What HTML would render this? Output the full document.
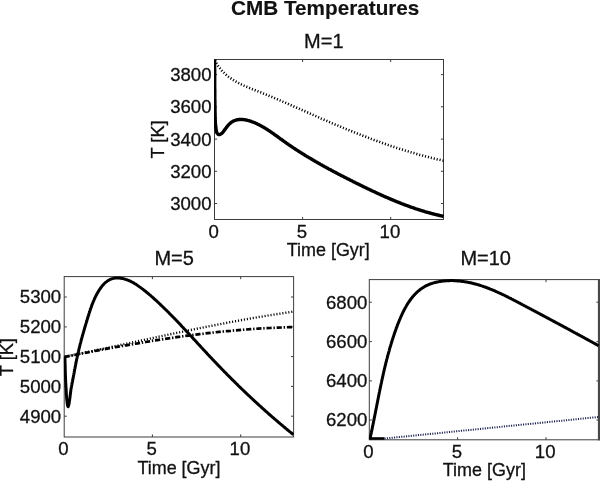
<!DOCTYPE html>
<html><head><meta charset="utf-8"><title>CMB Temperatures</title>
<style>
html,body{margin:0;padding:0;background:#fff;}
svg{display:block;will-change:transform;}
svg text{font-family:"Liberation Sans",Arial,sans-serif;font-size:18.6px;fill:#111;stroke:#111;stroke-width:0.3px;}
</style></head><body>
<svg width="600" height="481" viewBox="0 0 600 481">
<rect width="600" height="481" fill="#fff"/>
<text x="325.2" y="15.4" text-anchor="middle" textLength="188.4" lengthAdjust="spacingAndGlyphs" style="font-size:21px;font-weight:bold;stroke-width:0.15px">CMB Temperatures</text>
<text x="304.1" y="47.6" style="font-size:20px">M=1</text>
<text x="154.4" y="265.1" style="font-size:20px">M=5</text>
<text x="460.4" y="264.8" style="font-size:20px">M=10</text>
<rect x="214.5" y="59.5" width="229.0" height="160.0" fill="none" stroke="#3c3c3c" stroke-width="1"/>
<path d="M302.6,219.5 v-2.6 M302.6,59.5 v2.6 M390.7,219.5 v-2.6 M390.7,59.5 v2.6 M214.5,74.6 h2.6 M443.5,74.6 h-2.6 M214.5,106.8 h2.6 M443.5,106.8 h-2.6 M214.5,139.1 h2.6 M443.5,139.1 h-2.6 M214.5,171.3 h2.6 M443.5,171.3 h-2.6 M214.5,203.5 h2.6 M443.5,203.5 h-2.6" stroke="#3c3c3c" stroke-width="1" fill="none"/>
<text x="211.5" y="81.0" text-anchor="end">3800</text>
<text x="211.5" y="113.2" text-anchor="end">3600</text>
<text x="211.5" y="145.5" text-anchor="end">3400</text>
<text x="211.5" y="177.7" text-anchor="end">3200</text>
<text x="211.5" y="209.9" text-anchor="end">3000</text>
<text x="213.7" y="237.7" text-anchor="middle">0</text>
<text x="301.8" y="237.7" text-anchor="middle">5</text>
<text x="389.9" y="237.7" text-anchor="middle">10</text>
<text x="286.7" y="256.1" textLength="83.1" lengthAdjust="spacingAndGlyphs" style="font-size:18.7px">Time [Gyr]</text>
<rect x="64.2" y="276.6" width="229.4" height="160.4" fill="none" stroke="#3c3c3c" stroke-width="1"/>
<path d="M152.4,437.0 v-2.6 M152.4,276.6 v2.6 M240.7,437.0 v-2.6 M240.7,276.6 v2.6 M64.2,297.0 h2.6 M293.6,297.0 h-2.6 M64.2,326.9 h2.6 M293.6,326.9 h-2.6 M64.2,356.6 h2.6 M293.6,356.6 h-2.6 M64.2,386.4 h2.6 M293.6,386.4 h-2.6 M64.2,416.2 h2.6 M293.6,416.2 h-2.6" stroke="#3c3c3c" stroke-width="1" fill="none"/>
<text x="61.2" y="303.4" text-anchor="end">5300</text>
<text x="61.2" y="333.3" text-anchor="end">5200</text>
<text x="61.2" y="363.0" text-anchor="end">5100</text>
<text x="61.2" y="392.8" text-anchor="end">5000</text>
<text x="61.2" y="422.6" text-anchor="end">4900</text>
<text x="63.4" y="455.2" text-anchor="middle">0</text>
<text x="151.6" y="455.2" text-anchor="middle">5</text>
<text x="239.9" y="455.2" text-anchor="middle">10</text>
<text x="137.4" y="473.6" textLength="83.1" lengthAdjust="spacingAndGlyphs" style="font-size:18.7px">Time [Gyr]</text>
<rect x="369.3" y="279.6" width="229.7" height="160.2" fill="none" stroke="#3c3c3c" stroke-width="1"/>
<path d="M457.6,439.8 v-2.6 M457.6,279.6 v2.6 M546.0,439.8 v-2.6 M546.0,279.6 v2.6 M369.3,302.2 h2.6 M599.0,302.2 h-2.6 M369.3,341.6 h2.6 M599.0,341.6 h-2.6 M369.3,380.9 h2.6 M599.0,380.9 h-2.6 M369.3,420.0 h2.6 M599.0,420.0 h-2.6" stroke="#3c3c3c" stroke-width="1" fill="none"/>
<text x="367.4" y="308.6" text-anchor="end">6800</text>
<text x="367.4" y="348.0" text-anchor="end">6600</text>
<text x="367.4" y="387.3" text-anchor="end">6400</text>
<text x="367.4" y="426.4" text-anchor="end">6200</text>
<text x="368.5" y="458.0" text-anchor="middle">0</text>
<text x="456.8" y="458.0" text-anchor="middle">5</text>
<text x="545.2" y="458.0" text-anchor="middle">10</text>
<text x="442.8" y="476.4" textLength="83.1" lengthAdjust="spacingAndGlyphs" style="font-size:18.7px">Time [Gyr]</text>
<path d="M598.95,279.1 V440.40000000000003" stroke="#484848" stroke-width="2.1" fill="none"/>
<text transform="translate(163.6,139.3) rotate(-90)" x="-19.2" textLength="38.1" lengthAdjust="spacingAndGlyphs" style="font-size:18.7px">T [K]</text>
<text transform="translate(13.0,357.0) rotate(-90)" x="-19.2" textLength="38.1" lengthAdjust="spacingAndGlyphs" style="font-size:18.7px">T [K]</text>
<defs>
<clipPath id="c1"><rect x="214.0" y="59.0" width="230.0" height="161.0"/></clipPath>
<clipPath id="c2"><rect x="63.7" y="276.1" width="230.4" height="161.4"/></clipPath>
<clipPath id="c3"><rect x="368.8" y="279.1" width="230.7" height="161.2"/></clipPath>
</defs>
<path d="M214.9,60.3 L215.5,61.6 L216.2,62.8 L216.9,63.9 L217.6,65.1 L218.3,66.2 L219.1,67.2 L219.9,68.2 L220.7,69.2 L221.5,70.2 L222.3,71.2 L223.2,72.1 L224.1,72.9 L225.0,73.8 L225.9,74.6 L226.9,75.4 L227.8,76.2 L228.8,77.0 L229.8,77.7 L230.8,78.4 L231.8,79.1 L232.9,79.8 L233.9,80.4 L235.0,81.1 L236.1,81.7 L237.2,82.3 L238.3,82.9 L239.4,83.5 L240.5,84.0 L241.7,84.6 L242.8,85.1 L243.9,85.6 L245.1,86.1 L246.3,86.7 L247.4,87.1 L248.6,87.6 L249.8,88.1 L251.0,88.6 L252.1,89.1 L253.3,89.5 L254.5,90.0 L255.7,90.5 L256.9,90.9 L258.1,91.4 L259.3,91.9 L260.5,92.3 L261.7,92.8 L262.9,93.3 L264.0,93.8 L265.2,94.2 L266.4,94.7 L267.6,95.2 L268.8,95.7 L269.9,96.2 L271.1,96.7 L272.3,97.1 L273.5,97.6 L274.6,98.1 L275.8,98.6 L277.0,99.1 L278.2,99.6 L279.3,100.1 L280.5,100.6 L281.7,101.1 L282.8,101.6 L284.0,102.1 L285.2,102.6 L286.3,103.1 L287.5,103.6 L288.6,104.1 L289.8,104.7 L291.0,105.2 L292.1,105.7 L293.3,106.2 L294.4,106.7 L295.6,107.2 L296.8,107.7 L297.9,108.2 L299.1,108.7 L300.2,109.3 L301.4,109.8 L302.6,110.3 L303.7,110.8 L304.9,111.3 L306.0,111.8 L307.2,112.3 L308.4,112.8 L309.5,113.4 L310.7,113.9 L311.8,114.4 L313.0,114.9 L314.2,115.4 L315.3,115.9 L316.5,116.4 L317.6,116.9 L318.8,117.4 L320.0,117.9 L321.1,118.5 L322.3,119.0 L323.5,119.5 L324.6,120.0 L325.8,120.5 L327.0,121.0 L328.1,121.5 L329.3,122.0 L330.5,122.5 L331.6,123.0 L332.8,123.5 L334.0,124.0 L335.1,124.5 L336.3,124.9 L337.5,125.4 L338.6,125.9 L339.8,126.4 L341.0,126.9 L342.2,127.4 L343.3,127.9 L344.5,128.4 L345.7,128.9 L346.9,129.3 L348.0,129.8 L349.2,130.3 L350.4,130.8 L351.6,131.2 L352.7,131.7 L353.9,132.2 L355.1,132.7 L356.3,133.1 L357.5,133.6 L358.7,134.1 L359.8,134.5 L361.0,135.0 L362.2,135.5 L363.4,135.9 L364.6,136.4 L365.8,136.8 L366.9,137.3 L368.1,137.7 L369.3,138.2 L370.5,138.6 L371.7,139.1 L372.9,139.5 L374.1,140.0 L375.3,140.4 L376.5,140.8 L377.7,141.3 L378.9,141.7 L380.1,142.1 L381.2,142.6 L382.4,143.0 L383.6,143.4 L384.8,143.8 L386.0,144.2 L387.2,144.7 L388.4,145.1 L389.6,145.5 L390.8,145.9 L392.0,146.3 L393.3,146.7 L394.5,147.1 L395.7,147.5 L396.9,147.9 L398.1,148.3 L399.3,148.7 L400.5,149.1 L401.7,149.5 L402.9,149.8 L404.1,150.2 L405.3,150.6 L406.6,151.0 L407.8,151.3 L409.0,151.7 L410.2,152.1 L411.4,152.4 L412.6,152.8 L413.9,153.1 L415.1,153.5 L416.3,153.8 L417.5,154.2 L418.7,154.5 L420.0,154.9 L421.2,155.2 L422.4,155.5 L423.6,155.9 L424.9,156.2 L426.1,156.5 L427.3,156.8 L428.6,157.1 L429.8,157.5 L431.0,157.8 L432.3,158.1 L433.5,158.4 L434.7,158.7 L436.0,159.0 L437.2,159.3 L438.5,159.5 L439.7,159.8 L440.9,160.1 L442.2,160.4 L443.4,160.6" clip-path="url(#c1)" fill="none" stroke="#000" stroke-width="2.6" stroke-dasharray="1.1 1.9"/>
<path d="M214.6,59.4 L214.6,60.1 L214.6,60.7 L214.6,61.4 L214.6,62.0 L214.6,62.7 L214.6,63.4 L214.6,64.0 L214.6,64.7 L214.6,65.4 L214.6,66.0 L214.6,66.7 L214.6,67.3 L214.6,68.0 L214.7,68.7 L214.7,69.3 L214.7,70.0 L214.7,70.7 L214.7,71.3 L214.7,72.0 L214.7,72.6 L214.7,73.3 L214.7,74.0 L214.7,74.6 L214.7,75.3 L214.7,76.0 L214.7,76.6 L214.7,77.3 L214.7,78.0 L214.7,78.6 L214.7,79.3 L214.7,80.0 L214.7,80.6 L214.7,81.3 L214.7,81.9 L214.7,82.6 L214.7,83.3 L214.7,83.9 L214.7,84.6 L214.7,85.3 L214.7,85.9 L214.7,86.6 L214.7,87.3 L214.7,87.9 L214.7,88.6 L214.8,89.3 L214.8,89.9 L214.8,90.6 L214.8,91.3 L214.8,91.9 L214.8,92.6 L214.8,93.3 L214.8,93.9 L214.8,94.6 L214.8,95.3 L214.8,95.9 L214.8,96.6 L214.8,97.2 L214.8,97.9 L214.8,98.6 L214.8,99.2 L214.8,99.9 L214.9,100.6 L214.9,101.2 L214.9,101.9 L214.9,102.6 L214.9,103.2 L214.9,103.9 L214.9,104.5 L214.9,105.2 L214.9,105.9 L214.9,106.5 L214.9,107.2 L215.0,107.9 L215.0,108.5 L215.0,109.2 L215.0,109.8 L215.0,110.5 L215.0,111.2 L215.0,111.8 L215.0,112.5 L215.1,113.1 L215.1,113.8 L215.1,114.5 L215.1,115.1 L215.1,115.8 L215.1,116.4 L215.2,117.1 L215.2,117.7 L215.2,118.4 L215.2,119.1 L215.2,119.7 L215.3,120.4 L215.3,121.0 L215.3,121.7 L215.4,122.4 L215.4,123.0 L215.5,123.7 L215.5,124.4 L215.6,125.0 L215.6,125.7 L215.7,126.4 L215.8,127.0 L215.9,127.7 L216.0,128.4 L216.0,129.1 L216.1,129.7 L216.3,130.4 L216.4,131.1 L216.5,131.8 L216.7,132.4 L217.0,133.0 L217.4,133.5 L217.8,134.0 L218.3,134.4 L218.9,134.6 L219.5,134.6 L220.1,134.4 L220.7,134.1 L221.2,133.7 L221.8,133.3 L222.3,132.9 L222.7,132.4 L223.2,131.9 L223.6,131.4 L224.0,130.8 L224.4,130.2 L224.9,129.6 L225.3,129.0 L225.7,128.4 L226.2,127.8 L226.6,127.2 L227.1,126.6 L227.5,126.1 L228.0,125.5 L228.5,124.9 L229.0,124.4 L229.5,123.9 L230.0,123.5 L230.5,123.0 L231.0,122.6 L231.5,122.2 L232.0,121.9 L232.6,121.5 L233.1,121.2 L233.7,121.0 L234.3,120.7 L234.8,120.5 L235.4,120.3 L236.0,120.1 L236.6,119.9 L237.2,119.8 L237.8,119.7 L238.4,119.6 L239.0,119.5 L239.6,119.5 L240.2,119.5 L240.8,119.4 L241.5,119.4 L242.1,119.5 L242.7,119.5 L243.4,119.6 L244.0,119.6 L244.6,119.7 L245.3,119.8 L245.9,120.0 L246.5,120.1 L247.2,120.2 L247.8,120.4 L248.5,120.6 L249.1,120.7 L249.7,120.9 L250.4,121.1 L251.0,121.4 L251.6,121.6 L252.3,121.8 L252.9,122.0 L253.5,122.3 L254.1,122.5 L254.8,122.8 L255.4,123.1 L256.0,123.3 L256.6,123.6 L257.2,123.9 L257.8,124.2 L258.4,124.5 L259.0,124.8 L259.6,125.1 L260.2,125.4 L260.8,125.7 L261.3,126.0 L261.9,126.3 L262.5,126.7 L263.1,127.0 L263.6,127.3 L264.2,127.7 L264.8,128.0 L265.3,128.3 L265.9,128.7 L266.5,129.0 L267.0,129.4 L267.6,129.7 L268.1,130.1 L268.7,130.5 L269.2,130.8 L269.8,131.2 L270.3,131.6 L270.9,131.9 L271.4,132.3 L272.0,132.7 L272.5,133.1 L273.0,133.4 L273.6,133.8 L274.1,134.2 L274.6,134.6 L275.2,135.0 L275.7,135.4 L276.3,135.7 L276.8,136.1 L277.3,136.5 L277.9,136.9 L278.4,137.3 L278.9,137.7 L279.5,138.1 L280.0,138.5 L280.5,138.9 L281.1,139.2 L281.6,139.6 L282.1,140.0 L282.7,140.4 L283.2,140.8 L283.8,141.2 L284.3,141.6 L284.8,141.9 L285.4,142.3 L285.9,142.7 L286.4,143.1 L287.0,143.5 L287.5,143.8 L288.1,144.2 L288.6,144.6 L289.2,145.0 L289.7,145.3 L290.3,145.7 L290.8,146.1 L291.3,146.4 L291.9,146.8 L292.4,147.2 L293.0,147.6 L293.5,147.9 L294.1,148.3 L294.6,148.6 L295.2,149.0 L295.7,149.4 L296.3,149.7 L296.9,150.1 L297.4,150.4 L298.0,150.8 L298.5,151.2 L299.1,151.5 L299.6,151.9 L300.2,152.2 L300.8,152.6 L301.3,152.9 L301.9,153.3 L302.4,153.6 L303.0,154.0 L303.6,154.3 L304.1,154.7 L304.7,155.0 L305.2,155.4 L305.8,155.7 L306.4,156.1 L306.9,156.4 L307.5,156.7 L308.1,157.1 L308.6,157.4 L309.2,157.8 L309.8,158.1 L310.3,158.4 L310.9,158.8 L311.5,159.1 L312.0,159.5 L312.6,159.8 L313.2,160.1 L313.7,160.5 L314.3,160.8 L314.9,161.1 L315.5,161.5 L316.0,161.8 L316.6,162.1 L317.2,162.4 L317.8,162.8 L318.3,163.1 L318.9,163.4 L319.5,163.8 L320.1,164.1 L320.6,164.4 L321.2,164.7 L321.8,165.1 L322.4,165.4 L322.9,165.7 L323.5,166.0 L324.1,166.3 L324.7,166.7 L325.3,167.0 L325.8,167.3 L326.4,167.6 L327.0,167.9 L327.6,168.3 L328.2,168.6 L328.7,168.9 L329.3,169.2 L329.9,169.5 L330.5,169.8 L331.1,170.1 L331.6,170.5 L332.2,170.8 L332.8,171.1 L333.4,171.4 L334.0,171.7 L334.6,172.0 L335.2,172.3 L335.7,172.6 L336.3,172.9 L336.9,173.3 L337.5,173.6 L338.1,173.9 L338.7,174.2 L339.3,174.5 L339.9,174.8 L340.4,175.1 L341.0,175.4 L341.6,175.7 L342.2,176.0 L342.8,176.3 L343.4,176.6 L344.0,176.9 L344.6,177.2 L345.2,177.5 L345.7,177.8 L346.3,178.1 L346.9,178.4 L347.5,178.7 L348.1,179.0 L348.7,179.3 L349.3,179.6 L349.9,179.9 L350.5,180.2 L351.1,180.5 L351.7,180.8 L352.3,181.1 L352.8,181.4 L353.4,181.7 L354.0,182.0 L354.6,182.3 L355.2,182.6 L355.8,182.9 L356.4,183.2 L357.0,183.5 L357.6,183.8 L358.2,184.1 L358.8,184.4 L359.4,184.6 L360.0,184.9 L360.6,185.2 L361.2,185.5 L361.8,185.8 L362.3,186.1 L362.9,186.4 L363.5,186.7 L364.1,187.0 L364.7,187.3 L365.3,187.6 L365.9,187.8 L366.5,188.1 L367.1,188.4 L367.7,188.7 L368.3,189.0 L368.9,189.3 L369.5,189.6 L370.1,189.9 L370.7,190.1 L371.3,190.4 L371.9,190.7 L372.5,191.0 L373.1,191.3 L373.7,191.5 L374.3,191.8 L374.9,192.1 L375.5,192.4 L376.1,192.7 L376.7,192.9 L377.3,193.2 L377.9,193.5 L378.5,193.8 L379.1,194.0 L379.7,194.3 L380.3,194.6 L380.9,194.9 L381.5,195.1 L382.1,195.4 L382.7,195.7 L383.3,195.9 L383.9,196.2 L384.5,196.5 L385.1,196.8 L385.8,197.0 L386.4,197.3 L387.0,197.5 L387.6,197.8 L388.2,198.1 L388.8,198.3 L389.4,198.6 L390.0,198.9 L390.6,199.1 L391.2,199.4 L391.8,199.6 L392.4,199.9 L393.1,200.1 L393.7,200.4 L394.3,200.6 L394.9,200.9 L395.5,201.2 L396.1,201.4 L396.7,201.7 L397.3,201.9 L398.0,202.1 L398.6,202.4 L399.2,202.6 L399.8,202.9 L400.4,203.1 L401.0,203.4 L401.6,203.6 L402.3,203.8 L402.9,204.1 L403.5,204.3 L404.1,204.6 L404.7,204.8 L405.4,205.0 L406.0,205.3 L406.6,205.5 L407.2,205.7 L407.8,205.9 L408.5,206.2 L409.1,206.4 L409.7,206.6 L410.3,206.8 L411.0,207.1 L411.6,207.3 L412.2,207.5 L412.8,207.7 L413.5,207.9 L414.1,208.1 L414.7,208.4 L415.3,208.6 L416.0,208.8 L416.6,209.0 L417.2,209.2 L417.9,209.4 L418.5,209.6 L419.1,209.8 L419.8,210.0 L420.4,210.2 L421.0,210.4 L421.7,210.6 L422.3,210.8 L422.9,211.0 L423.6,211.2 L424.2,211.4 L424.8,211.6 L425.5,211.8 L426.1,212.0 L426.7,212.1 L427.4,212.3 L428.0,212.5 L428.7,212.7 L429.3,212.9 L429.9,213.0 L430.6,213.2 L431.2,213.4 L431.9,213.6 L432.5,213.7 L433.2,213.9 L433.8,214.1 L434.5,214.2 L435.1,214.4 L435.8,214.6 L436.4,214.7 L437.1,214.9 L437.7,215.0 L438.4,215.2 L439.0,215.3 L439.7,215.5 L440.3,215.6 L441.0,215.8 L441.6,215.9 L442.3,216.1 L442.9,216.2 L443.6,216.4" clip-path="url(#c1)" fill="none" stroke="#000" stroke-width="3.4" stroke-linejoin="round" stroke-linecap="butt"/>
<path d="M64.7,356.8 L68.5,356.1 L72.4,355.2 L76.3,354.4 L80.1,353.6 L84.0,352.8 L87.9,352.0 L91.7,351.2 L95.6,350.3 L99.5,349.5 L103.3,348.7 L107.2,347.9 L111.1,347.0 L114.9,346.2 L118.8,345.4 L122.7,344.5 L126.5,343.7 L130.4,342.8 L134.3,342.0 L138.1,341.2 L142.0,340.3 L145.8,339.5 L149.7,338.7 L153.6,337.8 L157.4,337.0 L161.3,336.2 L165.2,335.3 L169.0,334.5 L172.9,333.7 L176.8,332.9 L180.6,332.1 L184.5,331.3 L188.4,330.5 L192.3,329.7 L196.1,328.9 L200.0,328.1 L203.9,327.3 L207.8,326.5 L211.6,325.8 L215.5,325.0 L219.4,324.3 L223.3,323.5 L227.2,322.8 L231.0,322.0 L234.9,321.3 L238.8,320.6 L242.7,319.9 L246.6,319.2 L250.5,318.5 L254.4,317.8 L258.3,317.1 L262.2,316.5 L266.1,315.8 L270.0,315.2 L273.9,314.6 L277.8,314.0 L281.7,313.4 L285.6,312.8 L289.5,312.2 L293.5,311.6" clip-path="url(#c2)" fill="none" stroke="#000" stroke-width="2.4" stroke-dasharray="1.1 1.9"/>
<path d="M64.7,356.9 L68.5,356.1 L72.3,355.4 L76.2,354.6 L80.0,353.9 L83.9,353.1 L87.7,352.4 L91.5,351.6 L95.4,350.9 L99.2,350.2 L103.1,349.5 L106.9,348.7 L110.8,348.0 L114.6,347.3 L118.5,346.6 L122.4,345.9 L126.2,345.3 L130.1,344.6 L133.9,343.9 L137.8,343.3 L141.6,342.6 L145.5,342.0 L149.4,341.4 L153.2,340.7 L157.1,340.1 L161.0,339.5 L164.8,338.9 L168.7,338.3 L172.6,337.8 L176.5,337.2 L180.3,336.7 L184.2,336.1 L188.1,335.6 L192.0,335.1 L195.9,334.6 L199.7,334.1 L203.6,333.7 L207.5,333.2 L211.4,332.8 L215.3,332.3 L219.2,331.9 L223.1,331.5 L227.0,331.1 L230.9,330.8 L234.8,330.4 L238.7,330.1 L242.6,329.8 L246.5,329.5 L250.4,329.2 L254.3,328.9 L258.2,328.6 L262.1,328.4 L266.0,328.2 L269.9,328.0 L273.8,327.8 L277.7,327.6 L281.7,327.5 L285.6,327.3 L289.5,327.2 L293.4,327.1" clip-path="url(#c2)" fill="none" stroke="#000" stroke-width="2.7" stroke-dasharray="5.2 1.8 1.4 1.8"/>
<path d="M64.9,356.6 L64.9,357.5 L64.9,358.4 L65.0,359.2 L65.0,360.1 L65.0,361.0 L65.0,361.8 L65.1,362.7 L65.1,363.6 L65.1,364.4 L65.1,365.3 L65.2,366.1 L65.2,367.0 L65.2,367.9 L65.2,368.7 L65.2,369.6 L65.3,370.4 L65.3,371.3 L65.3,372.2 L65.3,373.0 L65.4,373.9 L65.4,374.7 L65.4,375.6 L65.5,376.5 L65.5,377.3 L65.5,378.2 L65.6,379.1 L65.6,380.0 L65.6,380.8 L65.7,381.7 L65.7,382.6 L65.8,383.5 L65.8,384.4 L65.9,385.3 L65.9,386.2 L66.0,387.0 L66.0,387.9 L66.1,388.8 L66.1,389.6 L66.2,390.5 L66.2,391.3 L66.3,392.1 L66.3,392.9 L66.3,393.7 L66.4,394.5 L66.4,395.3 L66.5,396.1 L66.6,396.9 L66.6,397.8 L66.7,398.7 L66.8,399.6 L66.9,400.6 L67.0,401.7 L67.2,402.9 L67.3,404.0 L67.5,405.0 L67.7,405.9 L67.9,406.4 L68.1,406.7 L68.3,406.4 L68.5,405.8 L68.7,405.0 L69.0,404.0 L69.2,402.9 L69.3,401.8 L69.5,400.8 L69.6,399.8 L69.8,398.8 L69.9,397.9 L70.0,397.1 L70.1,396.2 L70.2,395.4 L70.3,394.6 L70.4,393.8 L70.5,393.0 L70.6,392.2 L70.7,391.4 L70.8,390.6 L70.9,389.8 L71.0,389.0 L71.2,388.2 L71.3,387.3 L71.5,386.5 L71.6,385.6 L71.8,384.8 L72.0,383.9 L72.1,383.1 L72.3,382.2 L72.5,381.3 L72.6,380.5 L72.8,379.6 L73.0,378.8 L73.1,377.9 L73.3,377.0 L73.5,376.2 L73.6,375.3 L73.8,374.5 L73.9,373.6 L74.1,372.8 L74.3,371.9 L74.4,371.1 L74.6,370.2 L74.7,369.3 L74.9,368.5 L75.1,367.6 L75.2,366.8 L75.4,365.9 L75.5,365.1 L75.7,364.3 L75.9,363.4 L76.0,362.6 L76.2,361.7 L76.4,360.9 L76.5,360.0 L76.7,359.2 L76.9,358.3 L77.1,357.5 L77.3,356.6 L77.4,355.8 L77.6,354.9 L77.8,354.1 L78.0,353.3 L78.2,352.4 L78.4,351.6 L78.6,350.7 L78.8,349.9 L79.0,349.0 L79.2,348.2 L79.4,347.4 L79.6,346.5 L79.8,345.7 L80.0,344.8 L80.2,344.0 L80.5,343.2 L80.7,342.3 L80.9,341.5 L81.1,340.6 L81.3,339.8 L81.6,339.0 L81.8,338.1 L82.0,337.3 L82.3,336.4 L82.5,335.6 L82.7,334.8 L83.0,333.9 L83.2,333.1 L83.4,332.3 L83.7,331.4 L83.9,330.6 L84.2,329.8 L84.4,328.9 L84.6,328.1 L84.9,327.3 L85.1,326.4 L85.4,325.6 L85.6,324.8 L85.9,323.9 L86.1,323.1 L86.4,322.3 L86.6,321.4 L86.9,320.6 L87.1,319.8 L87.4,319.0 L87.6,318.1 L87.9,317.3 L88.1,316.5 L88.4,315.7 L88.7,314.8 L88.9,314.0 L89.2,313.2 L89.4,312.4 L89.7,311.6 L90.0,310.7 L90.2,309.9 L90.5,309.1 L90.8,308.3 L91.1,307.5 L91.4,306.7 L91.6,305.9 L91.9,305.1 L92.2,304.3 L92.6,303.4 L92.9,302.6 L93.2,301.8 L93.5,301.1 L93.9,300.3 L94.2,299.5 L94.6,298.7 L94.9,297.9 L95.3,297.1 L95.7,296.3 L96.1,295.5 L96.5,294.8 L96.9,294.0 L97.3,293.2 L97.8,292.4 L98.2,291.7 L98.7,290.9 L99.2,290.2 L99.7,289.4 L100.2,288.7 L100.7,287.9 L101.2,287.2 L101.8,286.5 L102.3,285.8 L102.9,285.1 L103.5,284.5 L104.1,283.8 L104.7,283.2 L105.3,282.7 L106.0,282.1 L106.7,281.6 L107.3,281.1 L108.0,280.6 L108.7,280.2 L109.5,279.8 L110.2,279.4 L111.0,279.1 L111.8,278.8 L112.6,278.6 L113.4,278.4 L114.2,278.2 L115.1,278.1 L115.9,278.0 L116.8,278.0 L117.6,278.0 L118.5,278.0 L119.4,278.1 L120.2,278.2 L121.1,278.3 L122.0,278.4 L122.9,278.6 L123.7,278.8 L124.6,279.0 L125.4,279.3 L126.3,279.6 L127.1,279.8 L127.9,280.2 L128.8,280.5 L129.6,280.8 L130.3,281.2 L131.1,281.6 L131.9,282.0 L132.7,282.4 L133.4,282.8 L134.2,283.2 L134.9,283.7 L135.6,284.1 L136.4,284.6 L137.1,285.1 L137.8,285.6 L138.5,286.1 L139.2,286.6 L139.9,287.1 L140.6,287.6 L141.3,288.1 L142.0,288.6 L142.7,289.1 L143.4,289.7 L144.1,290.2 L144.8,290.7 L145.4,291.3 L146.1,291.8 L146.8,292.4 L147.4,292.9 L148.1,293.5 L148.8,294.0 L149.4,294.6 L150.1,295.1 L150.8,295.7 L151.4,296.3 L152.1,296.9 L152.7,297.4 L153.4,298.0 L154.0,298.6 L154.6,299.2 L155.3,299.7 L155.9,300.3 L156.6,300.9 L157.2,301.5 L157.8,302.1 L158.5,302.7 L159.1,303.3 L159.7,303.9 L160.4,304.5 L161.0,305.1 L161.6,305.7 L162.2,306.3 L162.9,306.9 L163.5,307.5 L164.1,308.1 L164.7,308.7 L165.3,309.3 L166.0,309.9 L166.6,310.5 L167.2,311.1 L167.8,311.7 L168.4,312.3 L169.0,312.9 L169.6,313.6 L170.2,314.2 L170.8,314.8 L171.4,315.4 L172.1,316.0 L172.7,316.7 L173.3,317.3 L173.9,317.9 L174.5,318.5 L175.1,319.1 L175.7,319.8 L176.3,320.4 L176.9,321.0 L177.5,321.6 L178.1,322.3 L178.7,322.9 L179.3,323.5 L179.9,324.1 L180.5,324.8 L181.0,325.4 L181.6,326.0 L182.2,326.7 L182.8,327.3 L183.4,327.9 L184.0,328.6 L184.6,329.2 L185.2,329.8 L185.8,330.5 L186.4,331.1 L187.0,331.7 L187.6,332.4 L188.1,333.0 L188.7,333.6 L189.3,334.3 L189.9,334.9 L190.5,335.6 L191.1,336.2 L191.7,336.8 L192.3,337.5 L192.8,338.1 L193.4,338.7 L194.0,339.4 L194.6,340.0 L195.2,340.6 L195.8,341.3 L196.4,341.9 L197.0,342.6 L197.5,343.2 L198.1,343.8 L198.7,344.5 L199.3,345.1 L199.9,345.8 L200.5,346.4 L201.1,347.0 L201.6,347.7 L202.2,348.3 L202.8,348.9 L203.4,349.6 L204.0,350.2 L204.6,350.8 L205.2,351.5 L205.8,352.1 L206.4,352.8 L206.9,353.4 L207.5,354.0 L208.1,354.7 L208.7,355.3 L209.3,355.9 L209.9,356.6 L210.5,357.2 L211.1,357.8 L211.7,358.4 L212.3,359.1 L212.9,359.7 L213.5,360.3 L214.1,361.0 L214.7,361.6 L215.3,362.2 L215.9,362.8 L216.5,363.5 L217.1,364.1 L217.7,364.7 L218.3,365.4 L218.9,366.0 L219.5,366.6 L220.1,367.2 L220.7,367.8 L221.3,368.5 L221.9,369.1 L222.5,369.7 L223.1,370.3 L223.7,371.0 L224.3,371.6 L224.9,372.2 L225.5,372.8 L226.1,373.4 L226.7,374.0 L227.3,374.7 L227.9,375.3 L228.6,375.9 L229.2,376.5 L229.8,377.1 L230.4,377.7 L231.0,378.3 L231.6,379.0 L232.2,379.6 L232.8,380.2 L233.5,380.8 L234.1,381.4 L234.7,382.0 L235.3,382.6 L235.9,383.2 L236.5,383.8 L237.2,384.4 L237.8,385.0 L238.4,385.7 L239.0,386.3 L239.6,386.9 L240.3,387.5 L240.9,388.1 L241.5,388.7 L242.1,389.3 L242.8,389.9 L243.4,390.5 L244.0,391.1 L244.6,391.7 L245.3,392.3 L245.9,392.9 L246.5,393.5 L247.1,394.1 L247.8,394.7 L248.4,395.3 L249.0,395.9 L249.7,396.4 L250.3,397.0 L250.9,397.6 L251.6,398.2 L252.2,398.8 L252.8,399.4 L253.5,400.0 L254.1,400.6 L254.7,401.2 L255.4,401.8 L256.0,402.4 L256.6,402.9 L257.3,403.5 L257.9,404.1 L258.5,404.7 L259.2,405.3 L259.8,405.9 L260.5,406.4 L261.1,407.0 L261.8,407.6 L262.4,408.2 L263.0,408.8 L263.7,409.3 L264.3,409.9 L265.0,410.5 L265.6,411.1 L266.3,411.7 L266.9,412.2 L267.6,412.8 L268.2,413.4 L268.9,414.0 L269.5,414.5 L270.2,415.1 L270.8,415.7 L271.5,416.2 L272.1,416.8 L272.8,417.4 L273.4,417.9 L274.1,418.5 L274.7,419.1 L275.4,419.6 L276.1,420.2 L276.7,420.8 L277.4,421.3 L278.0,421.9 L278.7,422.5 L279.4,423.0 L280.0,423.6 L280.7,424.1 L281.3,424.7 L282.0,425.3 L282.7,425.8 L283.3,426.4 L284.0,426.9 L284.7,427.5 L285.3,428.0 L286.0,428.6 L286.7,429.1 L287.3,429.7 L288.0,430.2 L288.7,430.8 L289.3,431.3 L290.0,431.9 L290.7,432.4 L291.4,433.0 L292.0,433.5 L292.7,434.1 L293.4,434.6" clip-path="url(#c2)" fill="none" stroke="#000" stroke-width="3.0" stroke-linejoin="round" stroke-linecap="butt"/>
<path d="M369.8,438.5 H384.5" stroke="#000" stroke-width="2.6" fill="none"/>
<path d="M384.5,438.6 L395.8,437.4 L407.0,436.3 L418.3,435.1 L429.6,434.0 L440.8,432.9 L452.1,431.7 L463.4,430.6 L474.6,429.5 L485.9,428.3 L497.2,427.2 L508.4,426.0 L519.7,424.9 L531.0,423.8 L542.3,422.7 L553.5,421.5 L564.8,420.4 L576.1,419.3 L587.3,418.1 L598.6,417.0" clip-path="url(#c3)" fill="none" stroke="#1c2050" stroke-width="2.0" stroke-dasharray="1.1 1.3"/>
<path d="M369.8,439.3 L370.0,438.6 L370.1,437.9 L370.3,437.2 L370.5,436.5 L370.6,435.8 L370.8,435.1 L370.9,434.4 L371.1,433.7 L371.2,433.0 L371.4,432.3 L371.5,431.6 L371.7,430.9 L371.8,430.2 L372.0,429.5 L372.1,428.8 L372.3,428.1 L372.4,427.4 L372.5,426.7 L372.7,426.0 L372.8,425.3 L373.0,424.6 L373.1,423.9 L373.3,423.2 L373.4,422.5 L373.5,421.8 L373.7,421.1 L373.8,420.4 L374.0,419.7 L374.1,419.0 L374.2,418.3 L374.4,417.6 L374.5,416.9 L374.7,416.2 L374.8,415.5 L374.9,414.8 L375.1,414.1 L375.2,413.4 L375.4,412.7 L375.5,412.0 L375.6,411.3 L375.8,410.6 L375.9,409.9 L376.0,409.2 L376.2,408.5 L376.3,407.8 L376.5,407.1 L376.6,406.4 L376.7,405.7 L376.9,405.0 L377.0,404.3 L377.1,403.7 L377.3,403.0 L377.4,402.3 L377.5,401.6 L377.7,400.9 L377.8,400.2 L378.0,399.5 L378.1,398.8 L378.2,398.1 L378.4,397.4 L378.5,396.7 L378.7,396.0 L378.8,395.3 L378.9,394.6 L379.1,393.9 L379.2,393.2 L379.3,392.5 L379.5,391.8 L379.6,391.1 L379.8,390.4 L379.9,389.7 L380.1,389.0 L380.2,388.3 L380.3,387.7 L380.5,387.0 L380.6,386.3 L380.8,385.6 L380.9,384.9 L381.1,384.2 L381.2,383.5 L381.4,382.8 L381.5,382.1 L381.7,381.4 L381.8,380.7 L381.9,380.0 L382.1,379.3 L382.3,378.6 L382.4,377.9 L382.6,377.2 L382.7,376.6 L382.9,375.9 L383.0,375.2 L383.2,374.5 L383.3,373.8 L383.5,373.1 L383.6,372.4 L383.8,371.7 L384.0,371.0 L384.1,370.3 L384.3,369.6 L384.4,368.9 L384.6,368.2 L384.8,367.6 L384.9,366.9 L385.1,366.2 L385.3,365.5 L385.4,364.8 L385.6,364.1 L385.8,363.4 L385.9,362.7 L386.1,362.0 L386.3,361.3 L386.5,360.6 L386.6,359.9 L386.8,359.2 L387.0,358.6 L387.2,357.9 L387.4,357.2 L387.5,356.5 L387.7,355.8 L387.9,355.1 L388.1,354.4 L388.3,353.7 L388.5,353.0 L388.7,352.3 L388.9,351.6 L389.1,351.0 L389.3,350.3 L389.4,349.6 L389.6,348.9 L389.8,348.2 L390.0,347.5 L390.2,346.8 L390.5,346.1 L390.7,345.4 L390.9,344.7 L391.1,344.0 L391.3,343.4 L391.5,342.7 L391.7,342.0 L391.9,341.3 L392.1,340.6 L392.4,339.9 L392.6,339.2 L392.8,338.5 L393.0,337.8 L393.2,337.1 L393.5,336.5 L393.7,335.8 L393.9,335.1 L394.2,334.4 L394.4,333.7 L394.6,333.0 L394.9,332.3 L395.1,331.6 L395.4,330.9 L395.6,330.2 L395.9,329.6 L396.1,328.9 L396.3,328.2 L396.6,327.5 L396.9,326.8 L397.1,326.1 L397.4,325.4 L397.6,324.7 L397.9,324.0 L398.2,323.4 L398.4,322.7 L398.7,322.0 L399.0,321.3 L399.3,320.6 L399.5,319.9 L399.8,319.3 L400.1,318.6 L400.4,317.9 L400.7,317.2 L401.0,316.6 L401.3,315.9 L401.6,315.2 L401.9,314.6 L402.2,313.9 L402.5,313.2 L402.8,312.6 L403.1,311.9 L403.5,311.3 L403.8,310.6 L404.1,310.0 L404.4,309.4 L404.8,308.7 L405.1,308.1 L405.5,307.5 L405.8,306.9 L406.2,306.2 L406.5,305.6 L406.9,305.0 L407.3,304.4 L407.6,303.8 L408.0,303.2 L408.4,302.6 L408.8,302.0 L409.2,301.5 L409.6,300.9 L410.0,300.3 L410.4,299.8 L410.8,299.2 L411.2,298.7 L411.6,298.1 L412.1,297.6 L412.5,297.0 L412.9,296.5 L413.4,296.0 L413.8,295.5 L414.3,295.0 L414.7,294.5 L415.2,294.0 L415.7,293.5 L416.2,293.0 L416.6,292.6 L417.1,292.1 L417.6,291.7 L418.1,291.2 L418.6,290.8 L419.2,290.4 L419.7,289.9 L420.2,289.5 L420.7,289.1 L421.3,288.7 L421.8,288.3 L422.4,288.0 L422.9,287.6 L423.5,287.3 L424.1,286.9 L424.7,286.6 L425.3,286.2 L425.9,285.9 L426.5,285.6 L427.1,285.3 L427.7,285.0 L428.3,284.8 L429.0,284.5 L429.6,284.2 L430.2,284.0 L430.9,283.7 L431.6,283.5 L432.2,283.3 L432.9,283.1 L433.6,282.9 L434.3,282.7 L434.9,282.5 L435.6,282.4 L436.3,282.2 L437.0,282.0 L437.7,281.9 L438.4,281.8 L439.1,281.6 L439.9,281.5 L440.6,281.4 L441.3,281.3 L442.0,281.2 L442.7,281.1 L443.5,281.0 L444.2,281.0 L444.9,280.9 L445.6,280.8 L446.4,280.8 L447.1,280.7 L447.8,280.7 L448.6,280.7 L449.3,280.7 L450.0,280.6 L450.7,280.6 L451.5,280.6 L452.2,280.6 L452.9,280.6 L453.7,280.7 L454.4,280.7 L455.1,280.7 L455.8,280.8 L456.5,280.8 L457.3,280.9 L458.0,280.9 L458.7,281.0 L459.4,281.0 L460.1,281.1 L460.8,281.2 L461.5,281.3 L462.2,281.4 L463.0,281.5 L463.7,281.6 L464.4,281.7 L465.1,281.8 L465.8,281.9 L466.5,282.0 L467.2,282.1 L467.9,282.3 L468.6,282.4 L469.3,282.5 L470.0,282.7 L470.7,282.8 L471.4,283.0 L472.0,283.2 L472.7,283.3 L473.4,283.5 L474.1,283.7 L474.8,283.9 L475.5,284.0 L476.2,284.2 L476.9,284.4 L477.6,284.6 L478.2,284.8 L478.9,285.0 L479.6,285.2 L480.3,285.4 L481.0,285.7 L481.6,285.9 L482.3,286.1 L483.0,286.3 L483.7,286.6 L484.3,286.8 L485.0,287.0 L485.7,287.3 L486.4,287.5 L487.0,287.8 L487.7,288.0 L488.4,288.3 L489.0,288.5 L489.7,288.8 L490.4,289.1 L491.0,289.3 L491.7,289.6 L492.4,289.9 L493.0,290.2 L493.7,290.4 L494.3,290.7 L495.0,291.0 L495.7,291.3 L496.3,291.6 L497.0,291.9 L497.6,292.2 L498.3,292.5 L498.9,292.8 L499.6,293.1 L500.3,293.4 L500.9,293.7 L501.6,294.0 L502.2,294.3 L502.9,294.6 L503.5,294.9 L504.2,295.2 L504.8,295.5 L505.5,295.9 L506.1,296.2 L506.8,296.5 L507.4,296.8 L508.0,297.1 L508.7,297.5 L509.3,297.8 L510.0,298.1 L510.6,298.4 L511.3,298.8 L511.9,299.1 L512.6,299.4 L513.2,299.8 L513.8,300.1 L514.5,300.4 L515.1,300.8 L515.8,301.1 L516.4,301.4 L517.0,301.8 L517.7,302.1 L518.3,302.4 L518.9,302.8 L519.6,303.1 L520.2,303.4 L520.8,303.8 L521.5,304.1 L522.1,304.5 L522.7,304.8 L523.4,305.1 L524.0,305.5 L524.6,305.8 L525.3,306.1 L525.9,306.5 L526.5,306.8 L527.2,307.1 L527.8,307.5 L528.4,307.8 L529.1,308.1 L529.7,308.5 L530.3,308.8 L530.9,309.1 L531.6,309.5 L532.2,309.8 L532.8,310.1 L533.5,310.5 L534.1,310.8 L534.7,311.2 L535.3,311.5 L536.0,311.8 L536.6,312.2 L537.2,312.5 L537.8,312.8 L538.5,313.2 L539.1,313.5 L539.7,313.8 L540.3,314.2 L541.0,314.5 L541.6,314.8 L542.2,315.2 L542.8,315.5 L543.5,315.8 L544.1,316.2 L544.7,316.5 L545.3,316.8 L546.0,317.2 L546.6,317.5 L547.2,317.8 L547.8,318.2 L548.5,318.5 L549.1,318.8 L549.7,319.2 L550.3,319.5 L550.9,319.8 L551.6,320.2 L552.2,320.5 L552.8,320.8 L553.4,321.2 L554.1,321.5 L554.7,321.8 L555.3,322.2 L555.9,322.5 L556.5,322.8 L557.2,323.2 L557.8,323.5 L558.4,323.8 L559.0,324.2 L559.7,324.5 L560.3,324.8 L560.9,325.2 L561.5,325.5 L562.2,325.8 L562.8,326.2 L563.4,326.5 L564.0,326.9 L564.6,327.2 L565.3,327.5 L565.9,327.9 L566.5,328.2 L567.1,328.5 L567.8,328.9 L568.4,329.2 L569.0,329.5 L569.6,329.9 L570.3,330.2 L570.9,330.6 L571.5,330.9 L572.1,331.2 L572.8,331.6 L573.4,331.9 L574.0,332.3 L574.6,332.6 L575.3,332.9 L575.9,333.3 L576.5,333.6 L577.1,334.0 L577.8,334.3 L578.4,334.6 L579.0,335.0 L579.7,335.3 L580.3,335.7 L580.9,336.0 L581.5,336.4 L582.2,336.7 L582.8,337.0 L583.4,337.4 L584.1,337.7 L584.7,338.1 L585.3,338.4 L586.0,338.8 L586.6,339.1 L587.2,339.5 L587.9,339.8 L588.5,340.2 L589.1,340.5 L589.8,340.9 L590.4,341.2 L591.0,341.6 L591.7,341.9 L592.3,342.2 L592.9,342.6 L593.6,342.9 L594.2,343.3 L594.8,343.7 L595.5,344.0 L596.1,344.4 L596.8,344.7 L597.4,345.1 L598.0,345.4 L598.7,345.8" clip-path="url(#c3)" fill="none" stroke="#000" stroke-width="3.0" stroke-linejoin="round" stroke-linecap="butt"/>
</svg>
</body></html>
